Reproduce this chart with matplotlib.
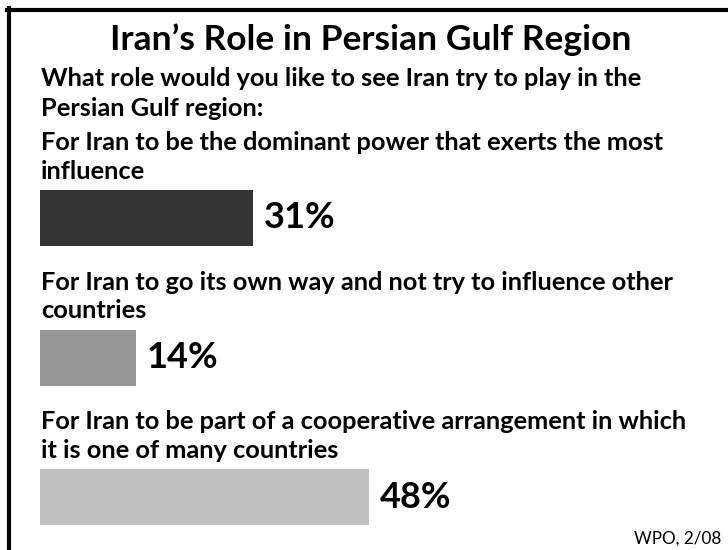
import numpy as np
import matplotlib
matplotlib.use('Agg')
import matplotlib.pyplot as plt
from matplotlib.lines import Line2D

# ── Data ──
title = 'Iran’s Role in Persian Gulf Region'
question = ['What role would you like to see Iran try to play in the',
            'Persian Gulf region:']
answers = [
    ['For Iran to be the dominant power that exerts the most', 'influence'],
    ['For Iran to go its own way and not try to influence other', 'countries'],
    ['For Iran to be part of a cooperative arrangement in which', 'it is one of many countries'],
]
values = [31, 14, 48]
colors = ['#333333', '#969696', '#c0c0c0']
source = 'WPO, 2/08'

W, H = 728, 550
FONT = 'Lato'

fig = plt.figure(figsize=(W / 100, H / 100), dpi=100)
fig.patch.set_facecolor('white')

def fx(px):
    return px / W

def fy(py):
    return 1 - py / H

# frame (left + top lines)
fig.add_artist(Line2D([fx(9), fx(9)], [fy(8), fy(H + 5)], color='black', lw=3.0,
                      transform=fig.transFigure))
fig.add_artist(Line2D([fx(7), fx(W + 5)], [fy(10), fy(10)], color='black', lw=3.0,
                      transform=fig.transFigure))

# title + question
fig.text(fx(371), fy(50), title, ha='center', va='baseline', fontsize=25.5,
         fontweight='bold', family=FONT)
for i, line in enumerate(question):
    fig.text(fx(41), fy(86 + 30 * i), line, ha='left', va='baseline', fontsize=18.3,
             fontweight='bold', family=FONT)

# bar axis: 1% = 6.86 px, bars start at x=40
left_px = 40
ax = fig.add_axes([fx(left_px), 0, 1 - fx(left_px), 1 - 0])
ax.set_xlim(0, (W - left_px) / 6.86)
# bar centers at 218, 357.5, 497 px -> 139.5 px per slot
slot = 139.5
y0 = 218
ax.set_ylim((H - y0) / slot, -y0 / slot)
ax.axis('off')

pos = np.arange(len(values))
ax.barh(pos, values, height=56 / slot, color=colors, left=0)
for p, v in zip(pos, values):
    ax.annotate(f'{v}%', xy=(v, p), xytext=(11, 0), textcoords='offset pixels',
                ha='left', va='center', fontsize=26, fontweight='bold', family=FONT)

# answer labels above each bar
for i, lines in enumerate(answers):
    top = y0 + slot * i - 28
    for j, line in enumerate(lines):
        base = top - 11 - 29 * (len(lines) - 1 - j)
        fig.text(fx(41), fy(base), line, ha='left', va='baseline', fontsize=18.3,
                 fontweight='bold', family=FONT)

fig.text(fx(721), fy(544), source, ha='right', va='baseline', fontsize=12.3,
         family=FONT)

fig.savefig('out.png', dpi=100, facecolor='white')
